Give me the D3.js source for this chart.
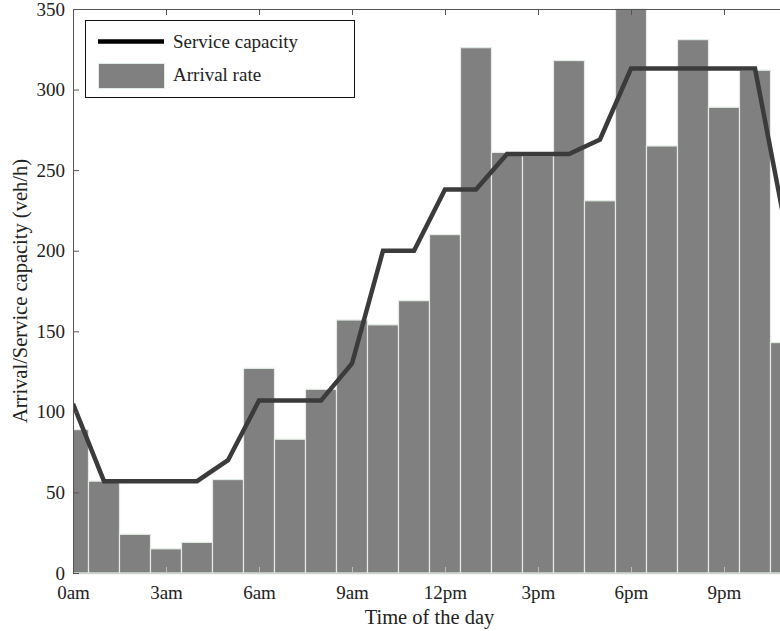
<!DOCTYPE html>
<html>
<head>
<meta charset="utf-8">
<script src="https://cdn.jsdelivr.net/npm/d3@7"></script>
<style>
  html, body { margin: 0; padding: 0; background: #fff; }
  svg { display: block; }
  text { font-family: "Liberation Serif", "Times New Roman", serif; fill: #222; }
</style>
</head>
<body>
<svg id="chart" width="780" height="631"></svg>
<script>
// Hourly arrival rate and service capacity (veh/h)
const hours = d3.range(0, 24);
const arrivalRate = [89, 57, 24, 15, 19, 58, 127, 83, 114, 157, 154, 169,
                     210, 326, 261, 259, 318, 231, 350, 265, 331, 289, 312, 143];
const serviceCapacity = [105, 57, 57, 57, 57, 70, 107, 107, 107, 130, 200, 200,
                         238, 238, 260, 260, 260, 269, 313, 313, 313, 313, 313, 213];
const xTickValues = [0, 3, 6, 9, 12, 15, 18, 21];
const xTickLabels = ["0am", "3am", "6am", "9am", "12pm", "3pm", "6pm", "9pm"];
const yTickValues = [0, 50, 100, 150, 200, 250, 300, 350];

const svg = d3.select("#chart");
const margin = { left: 73, top: 9, right: 786, bottom: 573 };

const x = d3.scaleLinear().domain([0, 23]).range([margin.left, margin.right]);
const y = d3.scaleLinear().domain([0, 350]).range([margin.bottom, margin.top]);

svg.append("defs").append("clipPath").attr("id", "plot-clip")
  .append("rect")
  .attr("x", margin.left).attr("y", margin.top - 1)
  .attr("width", margin.right - margin.left)
  .attr("height", margin.bottom - margin.top + 1);

const plot = svg.append("g").attr("clip-path", "url(#plot-clip)");

// Arrival-rate bars, one per hour, centred on the hour
plot.selectAll("rect.bar")
  .data(hours)
  .join("rect")
  .attr("class", "bar")
  .attr("x", d => x(d - 0.5))
  .attr("width", d => x(d + 0.5) - x(d - 0.5))
  .attr("y", d => y(arrivalRate[d]))
  .attr("height", d => y(0) - y(arrivalRate[d]))
  .attr("fill", "#808080")
  .attr("stroke", "#e2ece2")
  .attr("stroke-width", 1.2);

// Service capacity line
const line = d3.line()
  .x(d => x(d))
  .y(d => y(serviceCapacity[d]));

plot.append("path")
  .datum(hours)
  .attr("d", line)
  .attr("fill", "none")
  .attr("stroke", "#3b3b3b")
  .attr("stroke-width", 4.5)
  .attr("stroke-linejoin", "miter");

// Axes box with inward ticks
const axisColor = "#555";
const tickLen = 6;
const tickFont = 19;

const bottomAxis = d3.axisBottom(x)
  .tickValues(xTickValues)
  .tickFormat((d, i) => xTickLabels[i])
  .tickSizeInner(-tickLen).tickSizeOuter(0).tickPadding(13);
const gB = svg.append("g").attr("transform", `translate(0,${margin.bottom})`).call(bottomAxis);
gB.select(".domain").attr("stroke", "#cfd6cf").attr("stroke-width", 1.5);
gB.selectAll(".tick line").attr("stroke", "#bbb");
gB.selectAll(".tick text").attr("font-size", tickFont).attr("font-family", "Liberation Serif").attr("fill", "#222");

const topAxis = d3.axisTop(x).tickValues(xTickValues).tickFormat("")
  .tickSizeInner(-tickLen).tickSizeOuter(0);
const gT = svg.append("g").attr("transform", `translate(0,${margin.top})`).call(topAxis);
gT.select(".domain").attr("stroke", axisColor).attr("stroke-width", 1);
gT.selectAll(".tick line").attr("stroke", axisColor);

const leftAxis = d3.axisLeft(y).tickValues(yTickValues)
  .tickSizeInner(-tickLen).tickSizeOuter(0).tickPadding(8);
const gL = svg.append("g").attr("transform", `translate(${margin.left},0)`).call(leftAxis);
gL.select(".domain").attr("stroke", axisColor).attr("stroke-width", 1);
gL.selectAll(".tick line").attr("stroke", axisColor);
gL.selectAll(".tick text").attr("font-size", tickFont).attr("font-family", "Liberation Serif").attr("fill", "#222");

const rightAxis = d3.axisRight(y).tickValues(yTickValues).tickFormat("")
  .tickSizeInner(-tickLen).tickSizeOuter(0);
const gR = svg.append("g").attr("transform", `translate(${margin.right},0)`).call(rightAxis);
gR.select(".domain").attr("stroke", axisColor).attr("stroke-width", 1);
gR.selectAll(".tick line").attr("stroke", axisColor);

// Axis titles
svg.append("text")
  .attr("x", (margin.left + margin.right) / 2)
  .attr("y", 624)
  .attr("text-anchor", "middle")
  .attr("font-size", 20.5)
  .text("Time of the day");

svg.append("text")
  .attr("transform", `translate(27,${(margin.top + margin.bottom) / 2}) rotate(-90)`)
  .attr("text-anchor", "middle")
  .attr("font-size", 20.5)
  .text("Arrival/Service capacity (veh/h)");

// Legend
const legend = svg.append("g");
legend.append("rect")
  .attr("x", 85.5).attr("y", 20.5).attr("width", 269).attr("height", 77)
  .attr("fill", "#fff").attr("stroke", "#111").attr("stroke-width", 1);
legend.append("line")
  .attr("x1", 98).attr("x2", 164).attr("y1", 41.5).attr("y2", 41.5)
  .attr("stroke", "#000").attr("stroke-width", 4.5);
legend.append("rect")
  .attr("x", 98.5).attr("y", 63.5).attr("width", 66).attr("height", 25)
  .attr("fill", "#808080").attr("stroke", "#e2ece2").attr("stroke-width", 1);
legend.append("text").attr("x", 173).attr("y", 48).attr("font-size", 19).text("Service capacity");
legend.append("text").attr("x", 173).attr("y", 81).attr("font-size", 19).text("Arrival rate");
</script>
</body>
</html>
